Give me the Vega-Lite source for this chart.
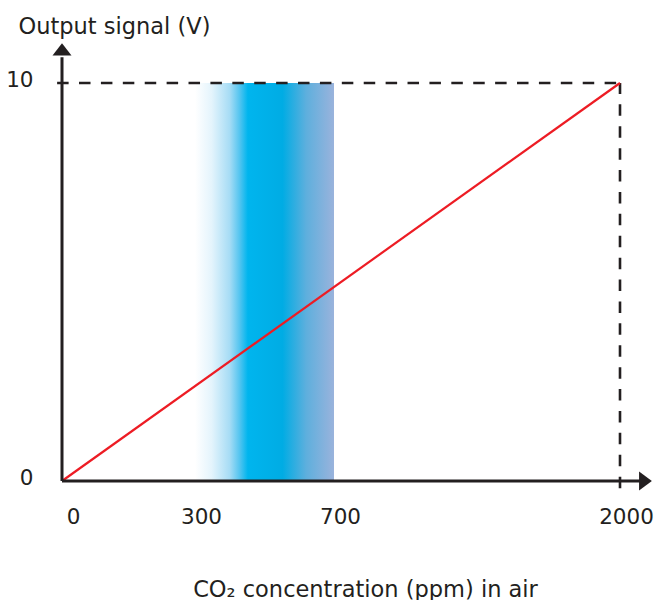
{
  "$schema": "https://vega.github.io/schema/vega-lite/v6.json",
  "width": 558,
  "height": 398,
  "autosize": {"type": "none"},
  "padding": {"left": 62, "top": 83, "right": 37, "bottom": 119},
  "config": {"view": {"stroke": null}, "font": "DejaVu Sans"},
  "layer": [
    {
      "data": {"values": [{"x": 300, "x2": 700, "y": 0, "y2": 10}]},
      "mark": {
        "type": "rect",
        "fill": {
          "gradient": "linear", "x1": 0, "y1": 0, "x2": 1, "y2": 0,
          "stops": [
            {"offset": 0, "color": "#ffffff"},
            {"offset": 0.12, "color": "#e4f4fc"},
            {"offset": 0.25, "color": "#a6dcf5"},
            {"offset": 0.32, "color": "#55c5f0"},
            {"offset": 0.38, "color": "#00b5ee"},
            {"offset": 0.63, "color": "#00ace4"},
            {"offset": 0.8, "color": "#5eafdd"},
            {"offset": 1, "color": "#9ab3dc"}
          ]
        }
      },
      "encoding": {
        "x": {
          "field": "x", "type": "quantitative",
          "scale": {"domain": [0, 300, 700, 2000], "range": [0, 133, 272, 558], "nice": false, "zero": false},
          "axis": {
            "values": [0, 300, 700, 2000],
            "format": "d",
            "domain": false, "ticks": false, "grid": false,
            "labelFont": "DejaVu Sans", "labelFontSize": 21.5, "labelColor": "#231f20",
            "labelPadding": 25, "labelFlush": false, "labelOverlap": false,
            "labelOffset": {"condition": {"test": "datum.value == 0", "value": 11}, "value": 6},
            "title": "CO₂ concentration (ppm) in air",
            "titleFont": "DejaVu Sans", "titleFontSize": 22.5, "titleFontWeight": "normal", "titleColor": "#231f20",
            "titleX": 303, "titleY": 115, "titleAlign": "center", "titleBaseline": "alphabetic"
          }
        },
        "x2": {"field": "x2"},
        "y": {
          "field": "y", "type": "quantitative",
          "scale": {"domain": [0, 10], "nice": false, "zero": false},
          "axis": {
            "values": [0, 10],
            "domain": false, "ticks": false, "grid": false,
            "labelFont": "DejaVu Sans", "labelFontSize": 21.5, "labelColor": "#231f20",
            "labelPadding": 29, "labelOffset": -3, "labelBaseline": "middle", "labelFlush": false,
            "title": "Output signal (V)",
            "titleFont": "DejaVu Sans", "titleFontSize": 22.5, "titleFontWeight": "normal", "titleColor": "#231f20",
            "titleAngle": 0, "titleX": -44, "titleY": -50, "titleAlign": "left", "titleBaseline": "alphabetic"
          }
        },
        "y2": {"field": "y2"}
      }
    },
    {
      "data": {"values": [
        {"x": -11, "x2": 2000, "y": 10, "y2": 10},
        {"x": 2000, "x2": 2000, "y": -0.18, "y2": 10}
      ]},
      "mark": {"type": "rule", "stroke": "#231f20", "strokeWidth": 2.6, "strokeDash": [11.5, 10.4]},
      "encoding": {
        "x": {"field": "x", "type": "quantitative"},
        "x2": {"field": "x2"},
        "y": {"field": "y", "type": "quantitative"},
        "y2": {"field": "y2"}
      }
    },
    {
      "data": {"values": [{"x": 0, "y": 0}, {"x": 2000, "y": 10}]},
      "mark": {"type": "line", "stroke": "#ed1c24", "strokeWidth": 2.2},
      "encoding": {
        "x": {"field": "x", "type": "quantitative"},
        "y": {"field": "y", "type": "quantitative"}
      }
    },
    {
      "data": {"values": [
        {"x": 0, "x2": 2091, "y": 0, "y2": 0},
        {"x": 0, "x2": 0, "y": 0, "y2": 10.65}
      ]},
      "mark": {"type": "rule", "stroke": "#231f20", "strokeWidth": 3},
      "encoding": {
        "x": {"field": "x", "type": "quantitative"},
        "x2": {"field": "x2"},
        "y": {"field": "y", "type": "quantitative"},
        "y2": {"field": "y2"}
      }
    },
    {
      "data": {"values": [
        {"x": 0, "y": 11.0, "dir": "up"},
        {"x": 2145, "y": 0, "dir": "right"}
      ]},
      "mark": {"type": "point", "filled": true, "fill": "#231f20", "stroke": null, "opacity": 1, "size": 361},
      "encoding": {
        "x": {"field": "x", "type": "quantitative"},
        "y": {"field": "y", "type": "quantitative"},
        "shape": {
          "field": "dir", "type": "nominal", "legend": null,
          "scale": {"domain": ["up", "right"], "range": ["M0,0L1,1.3L-1,1.3Z", "M0,0L-1.35,-1L-1.35,1Z"]}
        }
      }
    }
  ]
}
